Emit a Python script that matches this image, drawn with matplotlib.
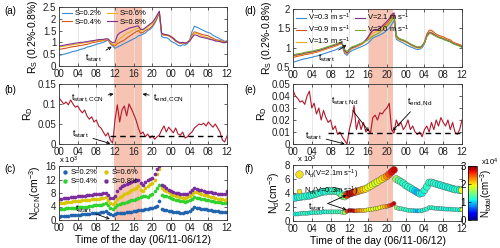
import matplotlib
matplotlib.use("Agg")

import matplotlib.pyplot as plt
import numpy as np
from matplotlib.patches import Rectangle
from matplotlib.lines import Line2D
from matplotlib.transforms import blended_transform_factory

plt.rcParams['font.family'] = 'Liberation Sans'
plt.rcParams['font.size'] = 7
plt.rcParams['mathtext.fontset'] = 'custom'
plt.rcParams['mathtext.rm'] = 'Liberation Sans'
plt.rcParams['mathtext.it'] = 'Liberation Sans:italic'
plt.rcParams['mathtext.default'] = 'regular'
plt.rcParams['xtick.direction'] = 'in'
plt.rcParams['ytick.direction'] = 'in'
plt.rcParams['xtick.top'] = True
plt.rcParams['ytick.right'] = True
plt.rcParams['xtick.major.size'] = 2
plt.rcParams['ytick.major.size'] = 2
plt.rcParams['xtick.major.pad'] = 2.5
plt.rcParams['ytick.major.pad'] = 2

# hours since 00:00 06/11, every 30 min
t = np.arange(73) * 0.5
xtick_pos = list(range(0, 37, 4))
xtick_lab = ['00', '04', '08', '12', '16', '20', '00', '04', '08', '12']

# (a) R_S for the four supersaturations
rs_s02 = [0.45, 0.47, 0.50, 0.52, 0.55, 0.58, 0.62, 0.63, 0.66, 0.70,
          0.72, 0.75, 0.80, 0.82, 0.85, 0.88, 0.92, 0.95, 0.97, 1.00,
          1.05, 1.10, 0.95, 0.85, 0.75, 0.80, 0.85, 0.90, 0.95, 1.00,
          1.05, 1.10, 1.15, 1.20, 1.28, 1.30, 1.35, 1.40, 1.50, 1.55,
          1.65, 1.80, 2.00, 2.25, 1.25, 1.20, 1.20, 1.15, 1.05, 1.00,
          0.95, 0.88, 0.85, 0.90, 0.88, 0.95, 1.10, 1.45, 1.68, 1.65,
          1.60, 1.55, 1.50, 1.45, 1.42, 1.38, 1.30, 1.25, 1.20, 1.15,
          1.10, 1.05, 1.05]
rs_s04 = [0.70, 0.72, 0.74, 0.75, 0.78, 0.80, 0.82, 0.83, 0.85, 0.87,
          0.88, 0.90, 0.92, 0.95, 0.98, 1.00, 1.02, 1.05, 1.05, 1.08,
          1.10, 1.12, 0.95, 0.88, 0.85, 0.95, 1.00, 1.05, 1.10, 1.18,
          1.25, 1.32, 1.38, 1.45, 1.50, 1.40, 1.42, 1.50, 1.55, 1.60,
          1.70, 1.85, 2.05, 2.28, 1.35, 1.30, 1.30, 1.28, 1.22, 1.15,
          1.05, 1.00, 0.95, 0.98, 0.95, 1.00, 1.10, 1.30, 1.45, 1.42,
          1.38, 1.35, 1.32, 1.30, 1.28, 1.22, 1.18, 1.12, 1.10, 1.08,
          1.05, 1.02, 1.05]
rs_s06 = [0.80, 0.82, 0.83, 0.85, 0.87, 0.88, 0.90, 0.92, 0.93, 0.95,
          0.97, 0.98, 1.00, 1.02, 1.03, 1.05, 1.07, 1.08, 1.08, 1.10,
          1.12, 1.13, 1.00, 0.92, 0.90, 1.05, 1.15, 1.22, 1.30, 1.38,
          1.42, 1.48, 1.52, 1.58, 1.62, 1.48, 1.50, 1.58, 1.65, 1.72,
          1.80, 1.92, 2.10, 2.30, 1.38, 1.32, 1.32, 1.30, 1.25, 1.18,
          1.08, 1.02, 0.98, 1.00, 0.97, 1.00, 1.08, 1.25, 1.40, 1.38,
          1.32, 1.28, 1.25, 1.22, 1.20, 1.15, 1.12, 1.08, 1.06, 1.05,
          1.02, 1.00, 1.02]
rs_s08 = [0.85, 0.86, 0.88, 0.90, 0.92, 0.93, 0.95, 0.97, 0.98, 1.00,
          1.00, 1.02, 1.03, 1.05, 1.07, 1.08, 1.10, 1.12, 1.12, 1.13,
          1.15, 1.15, 1.05, 0.98, 1.00, 1.30, 1.40, 1.45, 1.50, 1.55,
          1.60, 1.63, 1.65, 1.68, 1.70, 1.55, 1.55, 1.62, 1.70, 1.78,
          1.85, 1.98, 2.15, 2.32, 1.38, 1.35, 1.33, 1.30, 1.25, 1.18,
          1.08, 1.02, 0.98, 1.00, 0.97, 1.00, 1.05, 1.20, 1.32, 1.30,
          1.25, 1.22, 1.20, 1.18, 1.15, 1.12, 1.10, 1.06, 1.05, 1.03,
          1.00, 0.98, 1.05]

# (b) R_D for CCN
rd_ccn = [0.115, 0.108, 0.100, 0.105, 0.098, 0.110, 0.100, 0.092, 0.095, 0.085,
          0.078, 0.085, 0.070, 0.062, 0.068, 0.055, 0.060, 0.045, 0.040, 0.030,
          0.020, 0.028, 0.010, 0.002, 0.060, 0.098, 0.055, 0.085, 0.095, 0.070,
          0.100, 0.088, 0.075, 0.060, 0.040, 0.025, 0.030, 0.018, 0.025, 0.015,
          0.020, 0.012, 0.018, 0.022, 0.035, 0.045, 0.030, 0.042, 0.035, 0.028,
          0.040, 0.025, 0.022, 0.030, 0.015, 0.018, 0.025, 0.030, 0.040, 0.045,
          0.050, 0.048, 0.052, 0.045, 0.055, 0.048, 0.042, 0.050, 0.040, 0.030,
          0.010, 0.005, 0.020]
rd_ccn_thr = 0.02

# (c) N_CCN in 10^3 cm-3
nccn_s02 = [1.0, 1.1, 1.2, 1.3, 1.3, 1.4, 1.5, 1.5, 1.6, 1.6,
            1.7, 1.8, 1.8, 1.9, 2.0, 2.0, 2.1, 2.2, 2.3, 2.5,
            2.6, 2.2, 1.8, 1.6, 1.8, 2.0, 2.1, 2.1, 2.2, 2.3,
            2.4, 2.5, 2.6, 2.8, 2.9, 3.0, 3.1, 3.2, 3.4, 3.5,
            3.7, 3.9, 4.2, 5.5, 3.2, 3.0, 2.9, 2.8, 2.6, 2.5,
            2.4, 2.3, 2.2, 2.2, 2.3, 2.5, 2.7, 3.2, 3.8, 3.7,
            3.5, 3.4, 3.3, 3.2, 3.0, 2.9, 2.8, 2.7, 2.6, 2.5,
            2.5, 2.5, 2.5]
nccn_s04 = [3.3, 3.3, 3.4, 3.5, 3.5, 3.6, 3.7, 3.7, 3.8, 3.8,
            3.9, 4.0, 4.0, 4.1, 4.2, 4.3, 4.3, 4.4, 4.5, 4.7,
            5.0, 4.5, 3.6, 3.4, 3.8, 4.3, 4.7, 4.9, 5.1, 5.4,
            5.6, 5.8, 6.0, 6.3, 6.6, 6.8, 7.0, 7.0, 6.8, 7.3,
            7.8, 8.5, 9.5, 10.5, 7.5, 7.2, 7.0, 6.8, 6.5, 6.2,
            6.0, 5.8, 5.6, 5.5, 5.4, 5.5, 5.8, 6.3, 6.8, 6.6,
            6.4, 6.2, 6.1, 6.0, 5.8, 5.6, 5.5, 5.4, 5.3, 5.2,
            5.1, 5.0, 5.0]
nccn_s06 = [5.0, 5.0, 5.1, 5.2, 5.3, 5.4, 5.5, 5.5, 5.6, 5.7,
            5.8, 5.9, 6.0, 6.0, 6.1, 6.2, 6.2, 6.3, 6.4, 6.5,
            6.7, 6.0, 5.0, 4.8, 5.3, 6.2, 6.8, 7.2, 7.6, 8.0,
            8.4, 8.8, 9.3, 9.6, 10.0, 9.0, 8.6, 9.5, 10.2, 10.6,
            11.0, 12.0, 13.5, 15.0, 9.5, 9.0, 8.6, 8.2, 7.8, 7.5,
            7.2, 7.0, 6.8, 6.6, 6.5, 6.7, 7.2, 7.8, 8.4, 8.2,
            7.9, 7.7, 7.5, 7.3, 7.1, 6.9, 6.7, 6.5, 6.3, 6.2,
            6.1, 6.0, 6.5]
nccn_s08 = [6.2, 6.3, 6.4, 6.5, 6.6, 6.7, 6.8, 6.9, 7.0, 7.0,
            7.1, 7.2, 7.3, 7.4, 7.5, 7.6, 7.7, 7.8, 7.8, 7.9,
            8.0, 7.4, 6.6, 6.4, 7.0, 8.5, 9.5, 10.0, 10.5, 10.8,
            11.0, 11.3, 11.5, 11.8, 12.0, 11.0, 10.5, 11.3, 11.8, 12.2,
            12.5, 13.5, 15.0, 16.0, 10.5, 10.0, 9.5, 9.0, 8.7, 8.4,
            8.1, 8.0, 7.8, 7.7, 7.6, 7.8, 8.3, 9.0, 9.6, 9.3,
            9.0, 8.8, 8.6, 8.4, 8.3, 8.2, 8.0, 7.9, 7.8, 7.8,
            7.7, 7.7, 8.5]

# (d) R_S for the five updraft velocities
rs_v03 = [0.62, 0.64, 0.66, 0.68, 0.70, 0.71, 0.72, 0.74, 0.75, 0.77,
          0.78, 0.80, 0.82, 0.84, 0.86, 0.88, 0.90, 0.92, 0.94, 0.97,
          1.00, 1.02, 0.85, 0.80, 0.88, 0.92, 0.95, 0.97, 1.00, 1.02,
          1.05, 1.08, 1.12, 1.18, 1.25, 1.28, 1.30, 1.33, 1.36, 1.40,
          1.45, 1.50, 1.60, 1.70, 1.22, 1.18, 1.15, 1.12, 1.08, 1.05,
          1.02, 1.00, 0.97, 0.95, 0.96, 1.00, 1.10, 1.30, 1.40, 1.38,
          1.35, 1.32, 1.28, 1.25, 1.22, 1.20, 1.18, 1.15, 1.12, 1.10,
          1.08, 1.06, 1.05]
rs_v09 = [0.75, 0.76, 0.78, 0.79, 0.80, 0.82, 0.83, 0.84, 0.85, 0.87,
          0.88, 0.90, 0.92, 0.94, 0.96, 0.98, 1.00, 1.02, 1.04, 1.06,
          1.10, 1.08, 0.88, 0.84, 0.92, 0.98, 1.00, 1.02, 1.05, 1.08,
          1.12, 1.18, 1.25, 1.35, 1.45, 1.45, 1.45, 1.50, 1.55, 1.58,
          1.62, 1.70, 1.80, 1.88, 1.28, 1.22, 1.20, 1.18, 1.15, 1.12,
          1.08, 1.05, 1.02, 1.00, 1.00, 1.05, 1.15, 1.35, 1.45, 1.45,
          1.40, 1.35, 1.32, 1.30, 1.28, 1.25, 1.22, 1.20, 1.15, 1.12,
          1.10, 1.08, 1.05]
rs_v15 = [0.78, 0.79, 0.80, 0.81, 0.82, 0.84, 0.85, 0.86, 0.87, 0.88,
          0.90, 0.91, 0.93, 0.95, 0.97, 0.99, 1.01, 1.03, 1.05, 1.07,
          1.10, 1.08, 0.90, 0.85, 0.93, 0.99, 1.01, 1.03, 1.06, 1.09,
          1.12, 1.16, 1.22, 1.30, 1.38, 1.40, 1.42, 1.46, 1.50, 1.54,
          1.58, 1.65, 1.75, 1.82, 1.27, 1.21, 1.19, 1.17, 1.14, 1.11,
          1.07, 1.04, 1.01, 0.99, 0.99, 1.03, 1.12, 1.30, 1.40, 1.40,
          1.36, 1.32, 1.29, 1.27, 1.25, 1.22, 1.19, 1.17, 1.13, 1.10,
          1.08, 1.06, 1.03]
rs_v21 = [0.80, 0.81, 0.82, 0.83, 0.84, 0.86, 0.87, 0.88, 0.89, 0.90,
          0.92, 0.93, 0.95, 0.97, 0.99, 1.01, 1.03, 1.05, 1.07, 1.09,
          1.12, 1.10, 0.92, 0.87, 0.95, 1.00, 1.02, 1.05, 1.08, 1.10,
          1.14, 1.20, 1.28, 1.38, 1.45, 1.45, 1.46, 1.50, 1.56, 1.62,
          1.68, 1.75, 1.85, 1.90, 1.30, 1.24, 1.21, 1.19, 1.16, 1.13,
          1.09, 1.06, 1.03, 1.01, 1.01, 1.04, 1.12, 1.30, 1.38, 1.38,
          1.34, 1.30, 1.27, 1.25, 1.23, 1.20, 1.18, 1.16, 1.12, 1.09,
          1.07, 1.05, 1.02]
rs_v30 = [0.82, 0.83, 0.84, 0.85, 0.86, 0.88, 0.89, 0.90, 0.91, 0.92,
          0.94, 0.95, 0.97, 0.99, 1.01, 1.03, 1.05, 1.07, 1.09, 1.12,
          1.14, 1.12, 0.95, 0.90, 0.97, 1.02, 1.04, 1.06, 1.09, 1.11,
          1.14, 1.17, 1.20, 1.25, 1.30, 1.33, 1.36, 1.40, 1.45, 1.50,
          1.55, 1.62, 1.70, 1.78, 1.32, 1.25, 1.22, 1.20, 1.17, 1.14,
          1.10, 1.07, 1.04, 1.02, 1.02, 1.05, 1.12, 1.28, 1.36, 1.36,
          1.32, 1.29, 1.26, 1.24, 1.22, 1.19, 1.17, 1.15, 1.11, 1.08,
          1.06, 1.04, 1.00]

# (e) R_D for Nd
rd_nd = [0.045, 0.040, 0.038, 0.035, 0.036, 0.033, 0.040, 0.044, 0.030, 0.034,
         0.025, 0.030, 0.020, 0.028, 0.022, 0.018, 0.020, 0.012, 0.015, 0.008,
         0.010, 0.006, 0.003, 0.000, 0.012, 0.020, 0.032, 0.012, 0.020, 0.012,
         0.018, 0.010, 0.012, 0.009, 0.022, 0.024, 0.020, 0.026, 0.025, 0.028,
         0.030, 0.034, 0.012, 0.009, 0.020, 0.015, 0.018, 0.012, 0.015, 0.020,
         0.012, 0.015, 0.010, 0.008, 0.010, 0.006, 0.012, 0.015, 0.010, 0.018,
         0.012, 0.020, 0.015, 0.022, 0.018, 0.015, 0.020, 0.012, 0.018, 0.010,
         0.008, 0.012, 0.020]
rd_nd_thr = 0.009

# (f) Nd in 10^3 cm-3, N_total in 10^4 cm-3
nd_v21 = [3.3, 3.3, 3.4, 3.4, 3.5, 3.5, 3.6, 3.6, 3.7, 3.8,
          3.9, 4.0, 4.1, 4.2, 4.2, 4.3, 4.3, 4.3, 4.3, 4.2,
          4.0, 3.6, 3.5, 3.7, 3.9, 4.0, 4.1, 4.2, 4.3, 4.4,
          4.5, 4.6, 4.8, 5.0, 5.2, 5.4, 5.6, 5.8, 6.0, 6.2,
          6.4, 6.7, 7.0, 7.3, 6.0, 5.8, 5.6, 5.4, 5.1, 4.9,
          4.7, 4.5, 4.3, 4.1, 3.9, 4.0, 4.4, 4.9, 5.5, 5.5,
          5.4, 5.3, 5.2, 5.1, 5.0, 4.9, 4.8, 4.7, 4.6, 4.5,
          4.5, 4.4, 4.4]
nd_v03 = [1.0, 1.0, 1.0, 1.05, 1.1, 1.1, 1.1, 1.15, 1.2, 1.2,
          1.2, 1.25, 1.25, 1.3, 1.3, 1.3, 1.3, 1.3, 1.3, 1.3,
          1.3, 1.25, 1.2, 1.4, 1.5, 1.5, 1.45, 1.45, 1.5, 1.5,
          1.5, 1.55, 1.6, 1.65, 1.7, 1.75, 1.8, 1.9, 2.0, 2.05,
          2.1, 2.2, 2.3, 2.5, 1.9, 1.8, 1.75, 1.7, 1.6, 1.55,
          1.5, 1.5, 1.45, 1.45, 1.45, 1.5, 1.6, 1.7, 1.9, 1.9,
          1.85, 1.8, 1.8, 1.75, 1.75, 1.7, 1.7, 1.7, 1.65, 1.65,
          1.6, 1.6, 1.6]
n_total = [1.1, 1.1, 1.1, 1.2, 1.2, 1.2, 1.2, 1.1, 1.2, 1.2,
           1.2, 1.2, 1.2, 1.1, 1.2, 1.2, 1.2, 1.2, 1.3, 1.3,
           1.2, 1.5, 1.6, 2.6, 2.9, 2.9, 2.8, 2.4, 2.3, 2.2,
           2.1, 2.0, 1.9, 1.9, 1.9, 1.8, 1.9, 1.9, 2.0, 2.1,
           2.3, 2.5, 2.7, 2.8, 1.6, 1.4, 1.3, 1.2, 1.2, 1.2,
           1.2, 1.1, 1.0, 0.9, 1.1, 1.1, 1.2, 1.2, 1.2, 1.2,
           1.2, 1.2, 1.1, 1.2, 1.1, 1.2, 1.1, 1.2, 1.1, 1.2,
           1.2, 1.1, 1.9]

shade_ccn = (11.7, 17.8)
shade_nd = (16.2, 21.3)

c_blue = '#3d8bd4'
c_red = '#D95319'
c_yel = '#EDB120'
c_pur = '#7E2F8E'
c_grn = '#77AC30'
c_rd = '#b2182b'
c_shade = '#f7c3b3'

fig = plt.figure(figsize=(5, 2.48), dpi=100)
W, H = 500.0, 248.0


def add_ax(x0, x1, y0, y1):
    return fig.add_axes([x0 / W, 1 - y1 / H, (x1 - x0) / W, (y1 - y0) / H])


def style(ax, ylim, yticks, ylabels=None):
    ax.set_facecolor('none')
    ax.set_xlim(0, 36)
    ax.set_xticks(xtick_pos)
    ax.set_xticklabels(xtick_lab)
    ax.set_ylim(*ylim)
    ax.set_yticks(yticks)
    if ylabels is not None:
        ax.set_yticklabels(ylabels)
    ax.grid(axis='x', color='#e3e3e3', lw=0.6)
    ax.set_axisbelow(True)
    for s in ax.spines.values():
        s.set_color('#333333')
        s.set_linewidth(0.6)
    ax.tick_params(width=0.5, colors='#222222', labelsize=7)


def arrow(ax, txt, xy, xytext):
    ax.annotate(txt, xy=xy, xytext=xytext, fontsize=6.5, ha='left', va='bottom',
                arrowprops=dict(arrowstyle='->', lw=0.6, color='k',
                                shrinkA=1, shrinkB=0, mutation_scale=5))


ax_a = add_ax(59, 227, 7, 66)
ax_b = add_ax(59, 227, 84, 144)
ax_c = add_ax(59, 227, 166, 220)
ax_d = add_ax(293, 462, 9, 67)
ax_e = add_ax(293, 462, 84, 144)
ax_f = add_ax(293, 462, 165, 221)

# shaded periods across the whole column
tr_l = blended_transform_factory(ax_c.transData, fig.transFigure)
fig.add_artist(Rectangle((shade_ccn[0], 1 - 220 / H), shade_ccn[1] - shade_ccn[0],
                         213 / H, transform=tr_l, color=c_shade, zorder=-1, lw=0))
tr_r = blended_transform_factory(ax_f.transData, fig.transFigure)
fig.add_artist(Rectangle((shade_nd[0], 1 - 221 / H), shade_nd[1] - shade_nd[0],
                         212 / H, transform=tr_r, color=c_shade, zorder=-1, lw=0))

# (a)
lw = 0.8
ax_a.plot(t, rs_s02, color=c_blue, lw=lw, label='S=0.2%')
ax_a.plot(t, rs_s04, color=c_red, lw=lw, label='S=0.4%')
ax_a.plot(t, rs_s06, color=c_yel, lw=lw, label='S=0.6%')
ax_a.plot(t, rs_s08, color=c_pur, lw=lw, label='S=0.8%')
style(ax_a, (0, 2.5), [0, 0.5, 1, 1.5, 2, 2.5], ['0', '0.5', '1', '1.5', '2', '2.5'])
ax_a.set_ylabel(r'$R_S$ (0.2%-0.8%)', fontsize=7.5, labelpad=2)
ax_a.legend(loc='upper left', ncol=2, fontsize=5.5, frameon=False, handlelength=1.3,
            columnspacing=0.8, labelspacing=0.1, borderpad=0.2, handletextpad=0.3,
            borderaxespad=0.2)
arrow(ax_a, r'$t_{start}$', (11.3, 0.82), (5.6, 0.1))

# (b)
ax_b.plot(t, rd_ccn, color=c_rd, lw=0.8)
ax_b.hlines(rd_ccn_thr, 10.9, 36, colors='k', linestyles=(0, (4, 3)), lw=1.0)
style(ax_b, (0, 0.15), [0, 0.05, 0.1, 0.15], ['0', '0.05', '0.1', '0.15'])
ax_b.set_ylabel(r'$R_D$', fontsize=7.5, labelpad=2)
arrow(ax_b, r'$t_{start,CCN}$', (11.7, 0.125), (2.6, 0.100))
arrow(ax_b, r'$t_{end,CCN}$', (17.9, 0.125), (20.2, 0.100))
arrow(ax_b, r'$t_{start}$', (11.0, 0.001), (2.8, 0.009))

# (c)
ms = 7
ax_c.scatter(t, nccn_s02, s=ms, color='#2163ad', label='S=0.2%', lw=0)
ax_c.scatter(t, nccn_s04, s=ms, color='#2fd22f', label='S=0.4%', lw=0)
ax_c.scatter(t, nccn_s06, s=ms, color='#d9c600', label='S=0.6%', lw=0)
ax_c.scatter(t, nccn_s08, s=ms, color='#7b2c9e', label='S=0.8%', lw=0)
style(ax_c, (0, 16), [0, 4, 8, 12, 16])
ax_c.set_ylabel(r'$N_{CCN}$(cm$^{-3}$)', fontsize=7.5, labelpad=2)
ax_c.set_xlabel('Time of the day (06/11-06/12)', fontsize=7.5, labelpad=1)
ax_c.text(0.0, 1.0, r'x 10$^3$', transform=ax_c.transAxes, fontsize=5.5, va='bottom')
ax_c.legend(loc='upper left', ncol=2, fontsize=5.5, frameon=False, markerscale=1.2,
            handlelength=0.8, columnspacing=0.8, labelspacing=0.1, borderpad=0.2,
            handletextpad=0.3, borderaxespad=0.2)
arrow(ax_c, r'$t_{start}$', (10.9, 0.3), (3.4, 1.4))

# (d)
ax_d.plot(t, rs_v03, color=c_blue, lw=lw, label=r'V=0.3 m s$^{-1}$')
ax_d.plot(t, rs_v09, color=c_red, lw=lw, label=r'V=0.9 m s$^{-1}$')
ax_d.plot(t, rs_v15, color=c_yel, lw=lw, label=r'V=1.5 m s$^{-1}$')
ax_d.plot(t, rs_v21, color=c_pur, lw=lw, label=r'V=2.1 m s$^{-1}$')
ax_d.plot(t, rs_v30, color=c_grn, lw=lw, label=r'V=3.0 m s$^{-1}$')
style(ax_d, (0.5, 2), [0.5, 1, 1.5, 2], ['0.5', '1', '1.5', '2'])
ax_d.set_ylabel(r'$R_S$ (0.2%-0.8%)', fontsize=7.5, labelpad=2)
ax_d.legend(loc='upper left', ncol=2, fontsize=5.5, frameon=False, handlelength=1.3,
            columnspacing=0.5, labelspacing=0.1, borderpad=0.2, handletextpad=0.3,
            borderaxespad=0.2)
arrow(ax_d, r'$t_{start}$', (11.4, 1.07), (5.3, 0.58))

# (e)
ax_e.plot(t, rd_nd, color=c_rd, lw=0.8)
ax_e.hlines(rd_nd_thr, 7.5, 36, colors='k', linestyles=(0, (4, 3)), lw=1.0)
style(ax_e, (0, 0.05), [0, 0.01, 0.02, 0.03, 0.04, 0.05],
      ['0', '0.01', '0.02', '0.03', '0.04', '0.05'])
ax_e.set_ylabel(r'$R_D$', fontsize=7.5, labelpad=2)
arrow(ax_e, r'$t_{start,Nd}$', (16.2, 0.0105), (8.2, 0.031))
arrow(ax_e, r'$t_{end,Nd}$', (21.2, 0.011), (24.2, 0.030))
arrow(ax_e, r'$t_{start}$', (11.0, 0.0), (2.6, 0.002))

# (f)
sc = ax_f.scatter(t, nd_v21, s=26, c=n_total, cmap='jet', vmin=0, vmax=3,
                  edgecolors='#555555', linewidths=0.3, zorder=3)
ax_f.scatter(t, nd_v03, s=9, c=n_total, cmap='jet', vmin=0, vmax=3,
             edgecolors='#555555', linewidths=0.3, zorder=3)
style(ax_f, (0, 8), [0, 2, 4, 6, 8])
ax_f.set_ylabel(r'$N_d$(cm$^{-3}$)', fontsize=7.5, labelpad=2)
ax_f.set_xlabel('Time of the day (06/11-06/12)', fontsize=7.5, labelpad=1)
ax_f.text(0.0, 1.0, r'  x 10$^3$', transform=ax_f.transAxes, fontsize=5.5, va='bottom')
handles = [Line2D([], [], ls='none', marker='o', ms=5.5, mfc='#f2e21e', mec='#666666', mew=0.3),
           Line2D([], [], ls='none', marker='o', ms=3.5, mfc='#f2e21e', mec='#666666', mew=0.3)]
ax_f.legend(handles, [r'$N_d$(V=2.1m s$^{-1}$)', r'$N_d$(V=0.3m s$^{-1}$)'],
            loc='upper left', fontsize=5.5, frameon=False, handlelength=0.8,
            labelspacing=0.4, borderpad=0.2, handletextpad=0.3, borderaxespad=0.2)
ax_f.text(3.3, 1.6, r'$t_{start}$', fontsize=6.5)
for target in [(11.4, 3.7), (11.4, 1.6)]:
    ax_f.annotate('', xy=target, xytext=(7.4, 2.5),
                  arrowprops=dict(arrowstyle='->', lw=0.6, color='k',
                                  shrinkA=0, shrinkB=0, mutation_scale=5))

cax = fig.add_axes([468 / W, 1 - 220 / H, 9 / W, 54 / H])
cb = fig.colorbar(sc, cax=cax, ticks=[0, 1, 2, 3])
cb.outline.set_linewidth(0.5)
cax.yaxis.set_ticks_position('left')
cax.yaxis.set_label_position('right')
cax.tick_params(labelsize=7, width=0.5, length=2, direction='in', pad=1.5)
cb.set_label(r'$N_{total}$(cm$^{-3}$)', fontsize=7, labelpad=1)
fig.text(481 / W, 1 - 165 / H, r'x10$^4$', fontsize=5.5)

# panel letters
for lab, x, y in [('(a)', 4, 14), ('(b)', 4, 93), ('(c)', 4, 172),
                  ('(d)', 244, 14), ('(e)', 244, 93), ('(f)', 244, 172)]:
    fig.text(x / W, 1 - y / H, lab, fontsize=7)

fig.savefig('out.png', dpi=100)
